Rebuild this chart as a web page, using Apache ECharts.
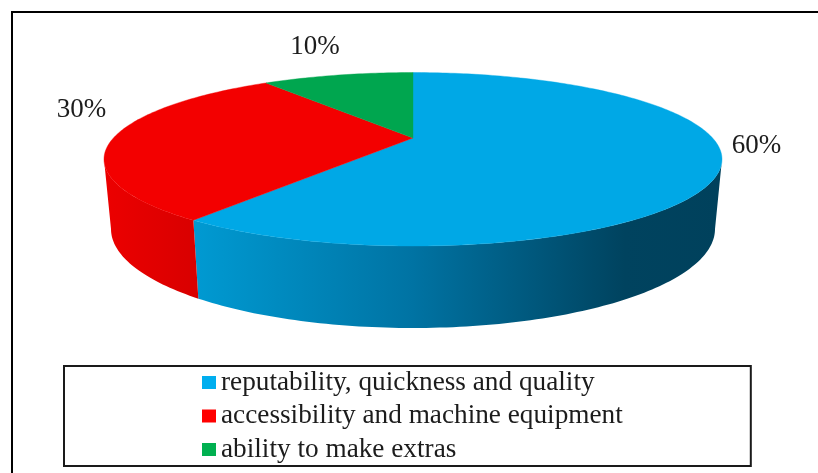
<!DOCTYPE html>
<html>
<head>
<meta charset="utf-8">
<style>html,body{margin:0;padding:0;background:#fff}#chart{width:818px;height:473px}</style>
<script src="https://cdn.jsdelivr.net/npm/echarts@6/dist/echarts.min.js"></script>
</head>
<body>
<div id="chart"></div>
<script>
// Survey shares, clockwise from twelve o'clock
const categories = ['reputability, quickness and quality', 'accessibility and machine equipment', 'ability to make extras'];
const shares = [60, 30, 10];
const swatchColors = ['#00aeef', '#ff0000', '#00b050'];
const topColors = ['#00a8e6', '#f30000', '#00a64f'];

// Stops of the shaded rim, running left to right across the slice
const rimStops = [
  [[0, '#009ad2'], [0.415, '#0073a3'], [0.816, '#00435f'], [1, '#00415c']],
  [[0, '#ec0000'], [1, '#d80000']],
  [[0, '#00a64f'], [1, '#00a64f']]
];

// Projection of the tilted disc
const upperDisc = { cx: 413, cy: 159.25, rx: 309, ry: 86.75, tilt: -0.245 };
const lowerDisc = { cx: 413, cy: 229, rx: 302, ry: 99 };
const labelAnchors = [[756.5, 146], [81.5, 110], [315, 47]];
const toRad = Math.PI / 180;

function discPoint(deg) {
  const u = Math.sin(deg * toRad), v = -Math.cos(deg * toRad), b = upperDisc.tilt;
  const d = 1 + b * v;
  return { X: u * Math.sqrt(1 - b * b) / d, Y: (v + b) / d };
}
function topPoint(deg) {
  const p = discPoint(deg);
  return [upperDisc.cx + p.X * upperDisc.rx, upperDisc.cy + p.Y * upperDisc.ry];
}
function basePoint(deg) {
  const X = Math.max(-1, Math.min(1, discPoint(deg).X));
  return [lowerDisc.cx + X * lowerDisc.rx, lowerDisc.cy + Math.sqrt(1 - X * X) * lowerDisc.ry];
}
function sweep(a, b, fn) {
  const pts = [], n = Math.max(2, Math.ceil(Math.abs(b - a)));
  for (let i = 0; i <= n; i++) pts.push(fn(a + (b - a) * i / n));
  return pts;
}

const total = shares.reduce((s, v) => s + v, 0);
const rimRight = Math.acos(upperDisc.tilt) * 180 / Math.PI;
const rimLeft = 360 - rimRight;

function sliceRenderer(index) {
  return function (params, api) {
    const value = api.value(0);
    const start = shares.slice(0, index).reduce((s, v) => s + v, 0) / total * 360;
    const end = start + value / total * 360;
    const origin = [upperDisc.cx, upperDisc.cy + upperDisc.tilt * upperDisc.ry];
    const children = [];

    // Visible rim: only the part of the slice on the near side of the disc
    const a = Math.max(start, rimRight), b = Math.min(end, rimLeft);
    if (b > a) {
      const upper = sweep(a, b, topPoint);
      const lower = sweep(b, a, basePoint);
      const xs = upper.concat(lower).map(p => p[0]);
      const x0 = Math.min.apply(null, xs), x1 = Math.max.apply(null, xs);
      children.push({
        type: 'polygon',
        shape: { points: upper.concat(lower) },
        style: {
          fill: new echarts.graphic.LinearGradient(x0, 0, x1, 0,
            rimStops[index].map(s => ({ offset: s[0], color: s[1] })), true)
        }
      });
    }

    // Upper face
    children.push({
      type: 'polygon',
      shape: { points: [origin].concat(sweep(start, end, topPoint)) },
      style: { fill: topColors[index], stroke: topColors[index], lineWidth: 0.4 }
    });

    // Percentage label
    children.push({
      type: 'text',
      x: labelAnchors[index][0],
      y: labelAnchors[index][1],
      style: {
        text: value + '%',
        fill: '#1c1c1c',
        font: '27px "Liberation Serif"',
        align: 'center',
        verticalAlign: 'middle'
      }
    });
    return { type: 'group', children: children };
  };
}

const chart = echarts.init(document.getElementById('chart'), null, { renderer: 'canvas' });
chart.setOption({
  animation: false,
  backgroundColor: '#ffffff',
  legend: {
    orient: 'vertical',
    left: 64,
    top: 366,
    padding: [3, 128, 3, 138],
    itemGap: 6.5,
    itemWidth: 14,
    itemHeight: 13,
    icon: 'rect',
    selectedMode: false,
    borderColor: '#1a1a1a',
    borderWidth: 2,
    backgroundColor: '#ffffff',
    textStyle: { fontFamily: '"Liberation Serif"', fontSize: 27.25, color: '#1c1c1c' },
    data: categories.map((name, i) => ({ name: name, itemStyle: { color: swatchColors[i] } }))
  },
  graphic: [{
    type: 'polyline',
    shape: { points: [[12, 473], [12, 12], [818, 12]] },
    style: { stroke: '#000000', lineWidth: 2, fill: 'none' },
    silent: true
  }],
  series: categories.map((name, i) => ({
    type: 'custom',
    name: name,
    coordinateSystem: 'none',
    silent: true,
    itemStyle: { color: swatchColors[i] },
    renderItem: sliceRenderer(i),
    data: [[shares[i]]]
  }))
});
</script>
</body>
</html>
